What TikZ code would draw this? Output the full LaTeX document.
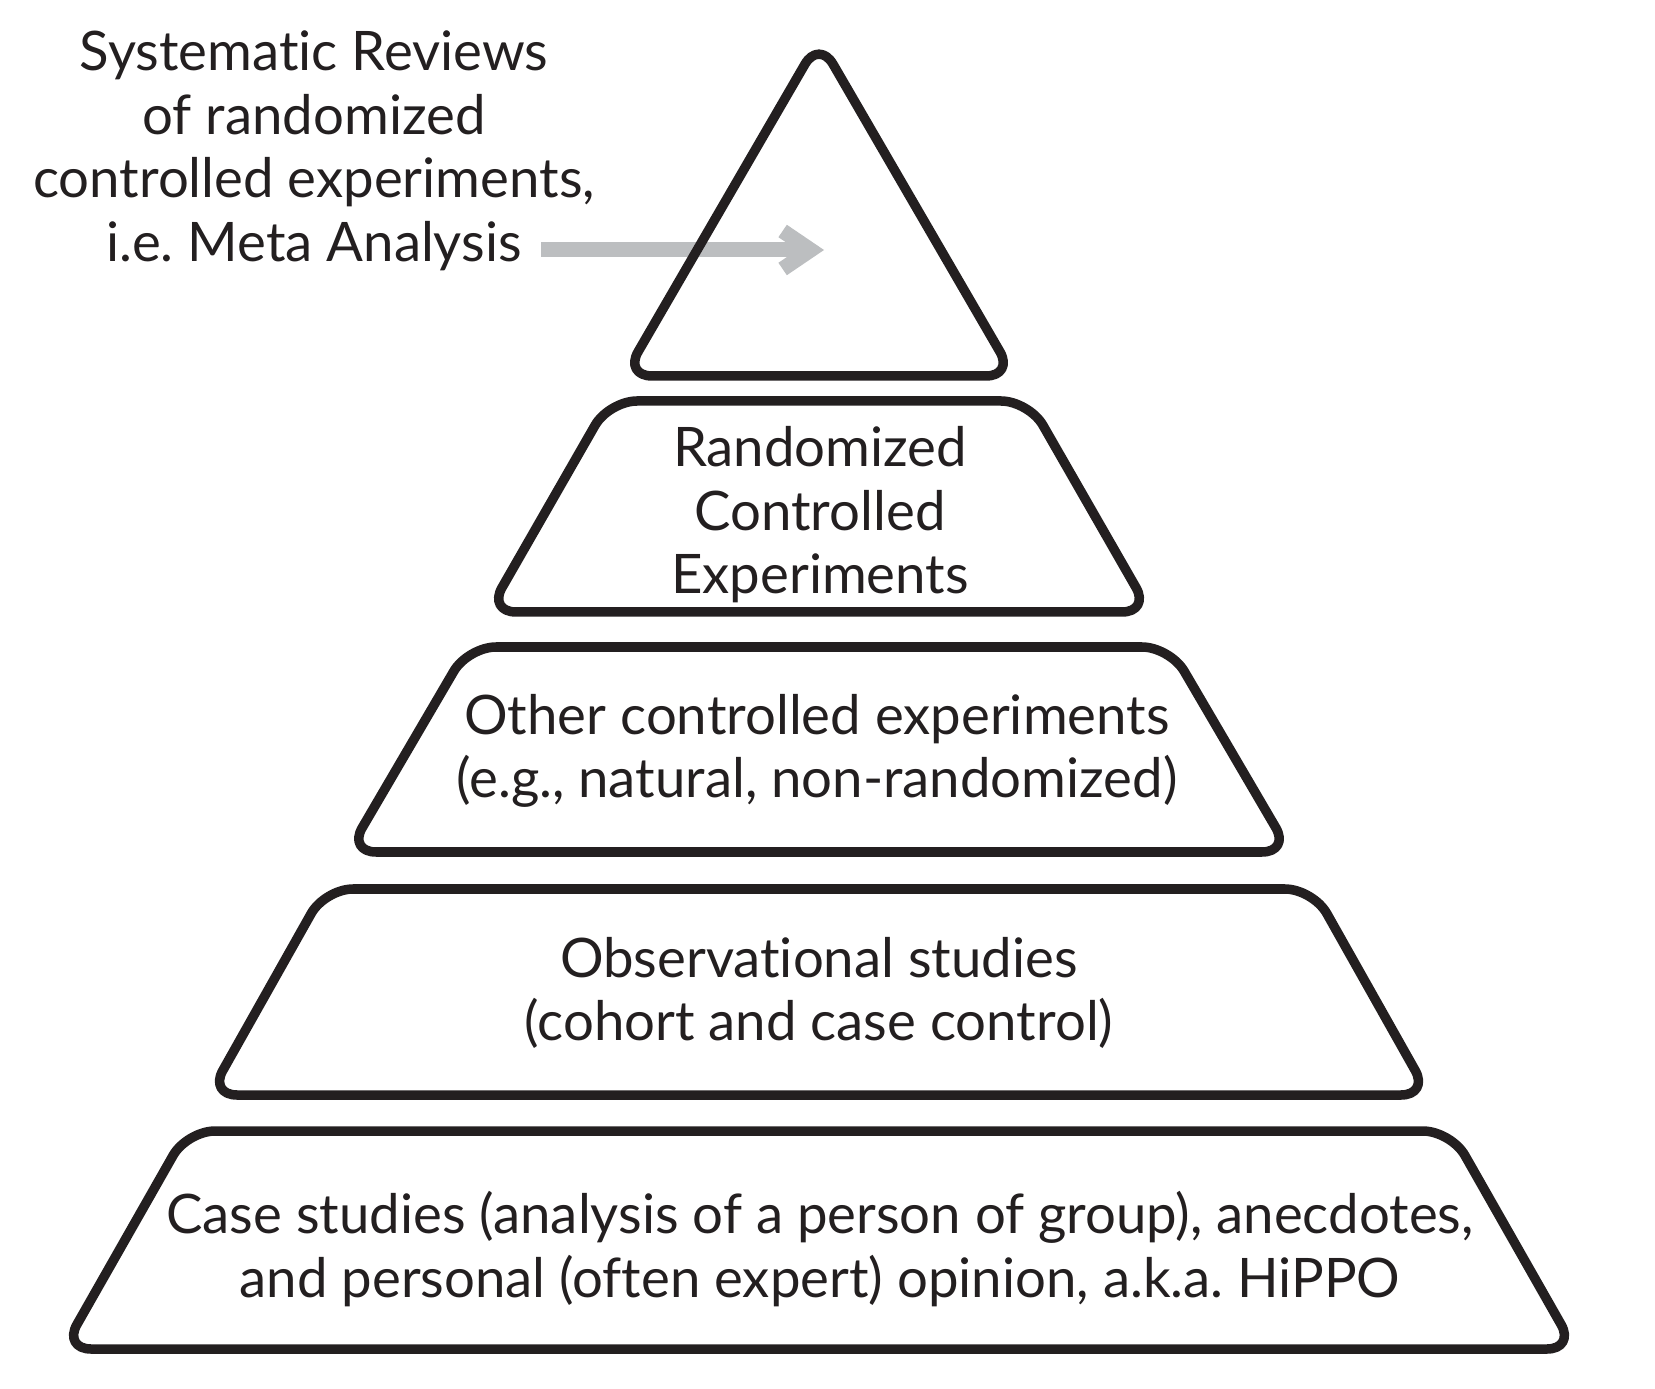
\documentclass[tikz,border=0pt]{standalone}
\usepackage{fontspec}
\setmainfont{Lato}[Ligatures=NoCommon]
\frenchspacing
\usetikzlibrary{arrows.meta,positioning}
\definecolor{ink}{RGB}{35,31,32}
\definecolor{pointer}{RGB}{188,190,192}

\begin{document}
\begin{tikzpicture}[x=0.01cm, y=-0.01cm,
    tier/.style={line width=0.095cm, draw=ink, rounded corners=0.28cm, line join=round},
    tiertext/.style={align=center, text=ink, inner sep=0pt,
        font=\fontsize{15.5}{18.07}\selectfont}]
    % Page frame
    \useasboundingbox (0,0) rectangle (1655,1389);

    % Pointer to the top (drawn first, the outline crosses it)
    \node[tiertext] (meta) at (314,151)
        {Systematic Reviews\\of randomized\\controlled experiments,\\i.e. Meta Analysis};
    \coordinate (metatail) at (541,250);
    \coordinate (metatip) at (824,250);
    \draw[pointer, line width=0.15cm,
        -{Straight Barb[length=0.28cm, width=0.38cm, sharp]}] (metatail) -- (metatip);

    % === Level 1: top triangle ===
    \draw[tier] (819,40) -- (1014,376) -- (624,376) -- cycle;

    % === Level 2: randomized experiments ===
    \draw[tier] (609,401) -- (1029,401) -- (1150,612) -- (488,612) -- cycle;
    \node[tiertext] (rct) at (820,515) {Randomized\\Controlled\\Experiments};

    % === Level 3: other experiments ===
    \draw[tier] (468,647) -- (1170,647) -- (1290,852) -- (348,852) -- cycle;
    \node[tiertext] (other) at (817,751)
        {Other controlled experiments\\(e.g., natural, non-randomized)};

    % === Level 4: observational ===
    \draw[tier] (325,889) -- (1313,889) -- (1429,1095) -- (209,1095) -- cycle;
    \node[tiertext] (obs) at (819,993)
        {Observational studies\\(cohort and case control)};

    % === Level 5: case studies ===
    \draw[tier] (187,1131) -- (1451,1131) -- (1575,1349) -- (63,1349) -- cycle;
    \node[tiertext] (case) at (820,1249)
        {Case studies (analysis of a person of group), anecdotes,\\and personal (often expert) opinion, a.k.a. HiPPO};
\end{tikzpicture}
\end{document}
